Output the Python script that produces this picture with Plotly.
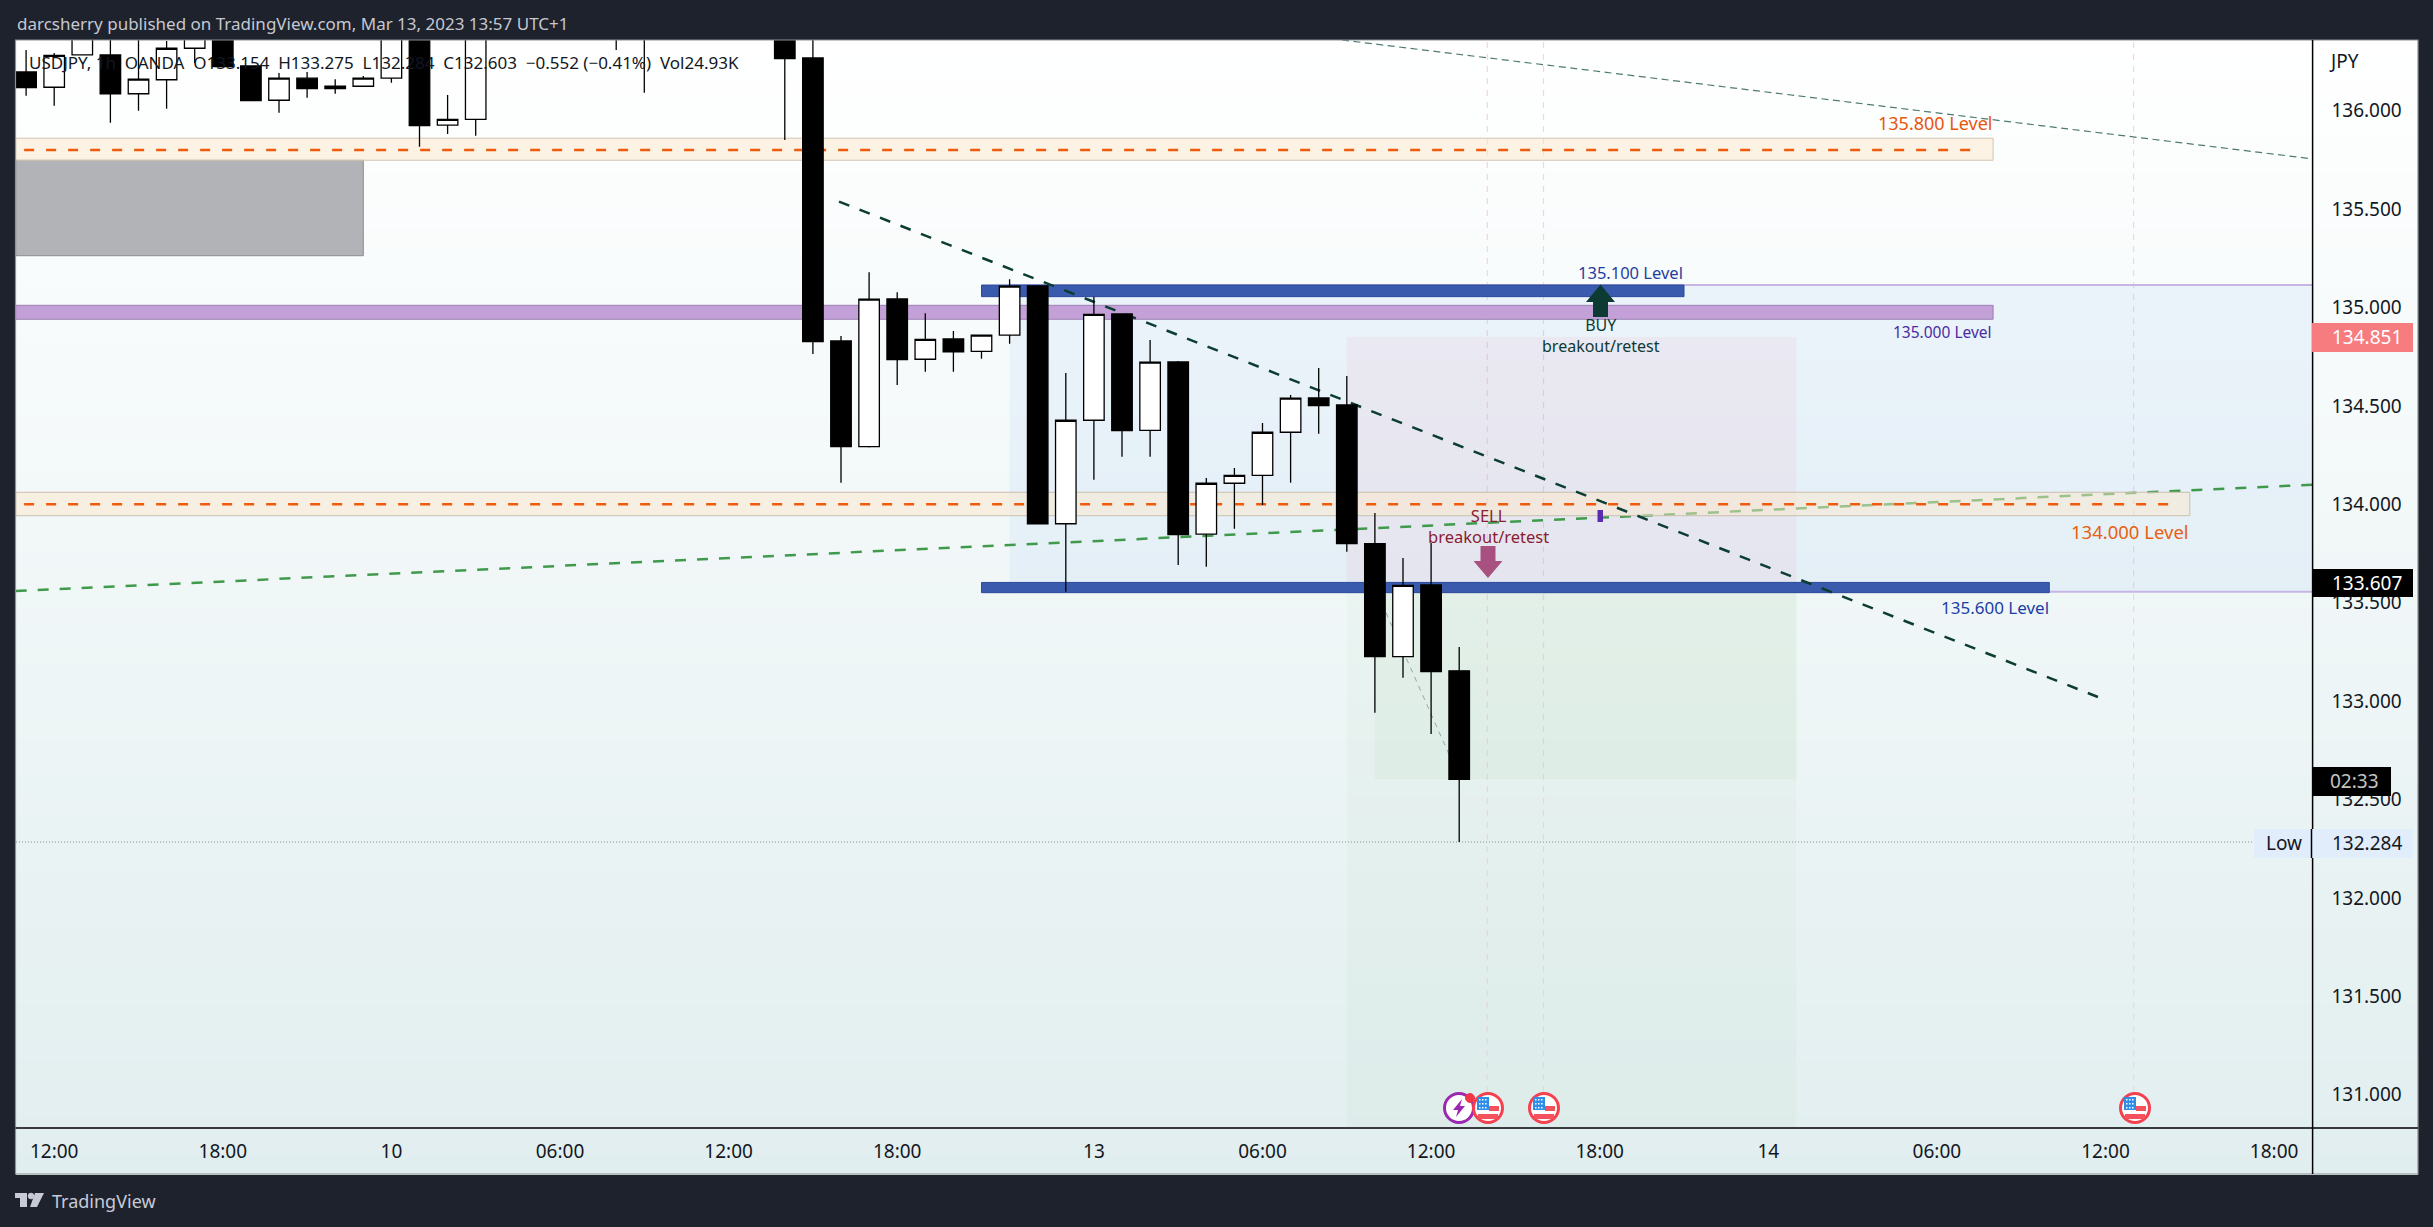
import plotly.graph_objects as go

# Hourly USDJPY candles, x is bars away from Mar 13 00:00 (the weekend is squeezed out)
bars = [-38, -37, -36, -35, -34, -33, -32, -31, -30, -29, -28, -27, -26, -25, -24, -23, -22,
        -17, -16, -11, -10, -9, -8, -7, -6, -5, -4, -3, -2, -1,
        0, 1, 2, 3, 4, 5, 6, 7, 8, 9, 10, 11, 12, 13]
opens = [136.197, 136.119, 136.283, 136.283, 136.086, 136.157, 136.317, 136.520, 136.227, 136.053,
         136.165, 136.112, 136.124, 136.165, 136.500, 135.926, 135.956,
         136.600, 136.600, 136.600, 136.268, 134.830, 134.293, 135.043, 134.737, 134.840, 134.777,
         134.859, 135.109, 133.901,
         134.427, 134.967, 134.376, 134.723, 133.848, 134.107, 134.147, 134.366, 134.540, 134.505,
         133.800, 133.226, 133.590, 133.154]
highs = [136.308, 136.293, 136.500, 136.400, 136.400, 136.354, 136.500, 136.550, 136.227, 136.191,
         136.197, 136.160, 136.176, 136.550, 136.550, 136.080, 136.500,
         136.650, 136.650, 136.650, 136.500, 134.855, 135.179, 135.077, 134.971, 134.881, 134.859,
         135.143, 135.109, 134.667,
         135.055, 134.971, 134.835, 134.728, 134.134, 134.184, 134.413, 134.555, 134.693, 134.652,
         133.956, 133.727, 133.803, 133.275]
lows = [136.076, 136.025, 136.283, 135.939, 136.000, 136.010, 136.242, 136.224, 136.051, 135.990,
        136.066, 136.086, 136.124, 136.142, 135.817, 135.882, 135.873,
        136.308, 136.091, 135.851, 134.764, 134.110, 134.288, 134.606, 134.674, 134.674, 134.740,
        134.816, 133.901, 133.556,
        134.125, 134.242, 134.242, 133.692, 133.683, 133.876, 133.996, 134.110, 134.359, 133.759,
        132.941, 133.119, 132.833, 132.284]
closes = [136.117, 136.281, 136.420, 136.086, 136.160, 136.317, 136.450, 136.224, 136.051, 136.165,
          136.112, 136.124, 136.165, 136.500, 135.924, 135.956, 136.450,
          136.500, 136.550, 136.264, 134.826, 134.293, 135.042, 134.735, 134.838, 134.775, 134.859,
          135.108, 133.901, 134.427,
          134.965, 134.374, 134.722, 133.846, 134.107, 134.147, 134.366, 134.539, 134.501, 133.800,
          133.226, 133.588, 133.150, 132.603]

time_ticks = [-37, -31, -25, -19, -13, -7, 0, 6, 12, 18, 24, 30, 36, 42]
time_labels = ['12:00', '18:00', '10', '06:00', '12:00', '18:00', '13', '06:00', '12:00', '18:00',
               '14', '06:00', '12:00', '18:00']
price_ticks = [136.0, 135.5, 135.0, 134.5, 134.0, 133.5, 133.0, 132.5, 132.0, 131.5, 131.0]
event_bars = [14, 16, 37]

# drawings on the chart: bar start, bar end, price top, price bottom
x_range = [-38.37, 43.37]
y_range = [130.831, 136.359]
grey_zone = [-38.37, -26, 135.748, 135.263]
range_zone = [-3, 43.37, 135.114, 133.556]
risk_zone = [9, 25, 134.851, 133.607]
reward_zone = [9, 25, 133.607, 130.831]
reward_inner = [10, 25, 133.607, 132.603]
orange_upper = [-38.37, 32, 135.860, 135.748]
orange_lower = [-38.37, 39, 134.061, 133.942]
purple_band = [-38.37, 32, 135.011, 134.940]
blue_upper = [-4, 21, 135.114, 135.055]
blue_lower = [-4, 34, 133.603, 133.551]
down_trend = [-9.07, 35.73, 135.538, 133.021]
up_trend = [-38.37, 43.37, 133.559, 134.100]
top_trend = [8.83, 43.37, 136.359, 135.755]
small_trend = [10.4, 12.68, 133.448, 132.716]
low_price = 132.284

W, H = 2433, 1227
DARK = '#1e222d'
FONT = 'Noto Sans'


def px(x):
    return x / W


def py(y):
    return 1 - y / H


def box(zone, fill, line=None, width=1):
    return dict(type='rect', xref='x', yref='y', x0=zone[0], x1=zone[1], y0=zone[2], y1=zone[3],
                fillcolor=fill, line=dict(color=line or 'rgba(0,0,0,0)', width=width), layer='below')


def slant(t, color, width, dash):
    return dict(type='line', xref='x', yref='y', x0=t[0], x1=t[1], y0=t[2], y1=t[3],
                line=dict(color=color, width=width, dash=dash), layer='below')


def pbox(x0, y0, x1, y1, fill, layer='above'):
    return dict(type='rect', xref='paper', yref='paper', x0=px(x0), x1=px(x1), y0=py(y0), y1=py(y1),
                fillcolor=fill, line=dict(width=0), layer=layer)


def poly(points, fill):
    path = 'M ' + ' L '.join(f'{px(a):.5f},{py(b):.5f}' for a, b in points) + ' Z'
    return dict(type='path', xref='paper', yref='paper', path=path, fillcolor=fill,
                line=dict(width=0), layer='above')


def ring(cx, cy, r, fill, line, width):
    return dict(type='circle', xref='paper', yref='paper', x0=px(cx - r), x1=px(cx + r),
                y0=py(cy - r), y1=py(cy + r), fillcolor=fill,
                line=dict(color=line, width=width), layer='above')


def note(x, y, text, color, size=16, anchor='center'):
    return dict(xref='paper', yref='paper', x=px(x), y=py(y), text=text, showarrow=False,
                xanchor=anchor, yanchor='middle', font=dict(family=FONT, size=size, color=color))


shapes = []

# white to pale teal panel behind everything
top, bottom = 40, 1174
steps = 60
for i in range(steps):
    f = i / (steps - 1)
    col = f'rgb({255 - 30 * f:.0f},{255 - 17 * f:.0f},{255 - 16 * f:.0f})'
    shapes.append(pbox(16, top + (bottom - top) * i / steps, 2418,
                       top + (bottom - top) * (i + 1) / steps + 1, col, layer='below'))

shapes += [
    box(range_zone, 'rgba(33,120,243,0.06)'),
    box(risk_zone, 'rgba(242,80,110,0.055)'),
    box(reward_zone, 'rgba(76,175,80,0.035)'),
    box(reward_inner, 'rgba(76,175,80,0.05)'),
    box(grey_zone, '#b1b3b6', '#8b8d90'),
    box(purple_band, '#c3a0d7', '#9b80b3'),
]
for level in [range_zone[2], range_zone[3]]:
    shapes.append(dict(type='line', xref='x', yref='y', x0=range_zone[0], x1=range_zone[1], y0=level,
                       y1=level, line=dict(color='#c7b6e4', width=2), layer='below'))
shapes += [
    box(blue_upper, '#3a5aad', '#2c4a9c'),
    box(blue_lower, '#3a5aad', '#2c4a9c'),
]
for b in event_bars:
    shapes.append(dict(type='line', xref='x', yref='paper', x0=b, x1=b, y0=py(1092), y1=py(40),
                       line=dict(color='#f3d5de', width=1.2, dash='6px,6px'), layer='below'))
# the green line runs under the orange band, which is what makes it look faded there
shapes += [
    slant(up_trend, '#3f9a4b', 2.5, '11px,11px'),
    box(orange_upper, 'rgba(252,231,203,0.5)', '#d3c5b3'),
    box(orange_lower, 'rgba(252,231,203,0.5)', '#cbbfae'),
]
for zone, end in [(orange_upper, 135.800), (orange_lower, 134.000)]:
    shapes.append(dict(type='line', xref='x', yref='y', x0=zone[0] + 0.3, x1=zone[1] - 0.4, y0=end, y1=end,
                       line=dict(color='#ef5a0c', width=2.5, dash='10px,12px'), layer='below'))
shapes += [
    slant(down_trend, '#0c3d33', 2.5, '11px,11px'),
    slant(top_trend, '#4f7a70', 1.2, '7px,4.5px'),
    slant(small_trend, '#9aa5a5', 1, '5px,5px'),
    dict(type='line', xref='paper', yref='y', x0=px(16), x1=px(2312), y0=low_price, y1=low_price,
         line=dict(color='#8a8d92', width=1, dash='1px,2px'), layer='below'),
]

# panel frame and axis lines
shapes += [
    dict(type='rect', xref='paper', yref='paper', x0=px(15.5), x1=px(2418), y0=py(40), y1=py(1174),
         line=dict(color='#8c9096', width=1.2), layer='above'),
    dict(type='line', xref='paper', yref='paper', x0=px(15.5), x1=px(2418), y0=py(1128), y1=py(1128),
         line=dict(color='#000000', width=1.5), layer='above'),
    dict(type='line', xref='paper', yref='paper', x0=px(2312.6), x1=px(2312.6), y0=py(40), y1=py(1174),
         line=dict(color='#000000', width=1.5), layer='above'),
]

# buy / sell arrows and the small marker on the trend line
shapes.append(poly([(1600.5, 284.5), (1615, 302), (1608, 302), (1608, 317), (1593, 317), (1593, 302), (1586, 302)],
                   '#0d3b34'))
shapes.append(poly([(1488, 578), (1473.5, 561), (1480.5, 561), (1480.5, 546), (1495.5, 546), (1495.5, 561),
                    (1502.5, 561)], '#a85180'))
shapes.append(dict(type='rect', xref='paper', yref='paper', x0=px(1597.5), x1=px(1603), y0=py(510), y1=py(522),
                   fillcolor='#5a2db0', line=dict(width=0), layer='above'))

# event icons on the time axis
shapes += [ring(1459, 1108, 14.5, '#ffffff', '#9c27b0', 3)]
shapes.append(poly([(1462, 1099), (1453, 1110), (1458, 1110), (1456, 1117), (1465, 1106), (1460, 1106)], '#9c27b0'))
shapes.append(ring(1470, 1098, 4.5, '#f23645', '#f23645', 1))
for cx in [1488, 1544, 2135]:
    shapes.append(ring(cx, 1108, 14.5, '#ffffff', '#f4404f', 3))
    shapes.append(pbox(cx - 11, 1097, cx + 1, 1110, '#2f8fe8'))
    shapes.append(pbox(cx + 1, 1106, cx + 11, 1111, '#f4525c'))
    shapes.append(pbox(cx - 10, 1114, cx + 10, 1119, '#f4525c'))
    for row in (1099, 1103, 1107):
        for col in (cx - 9, cx - 6, cx - 3):
            shapes.append(pbox(col, row, col + 1.5, row + 1.5, '#ffffff'))

# price labels on the right
shapes += [
    pbox(2312, 323, 2413, 352, '#f77c80'),
    pbox(2312, 569, 2413, 597, '#000000'),
    pbox(2312, 767, 2391, 796, '#000000'),
    pbox(2254, 829, 2413, 858, '#e2edfb'),
    dict(type='line', xref='paper', yref='paper', x0=px(2311.5), x1=px(2311.5), y0=py(829), y1=py(858),
         line=dict(color='#000000', width=1.5), layer='above'),
]

# TradingView mark
shapes += [
    poly([(15, 1193), (27, 1193), (27, 1207), (20, 1207), (20, 1198), (15, 1198)], '#c8cad6'),
    ring(31, 1196, 3, '#c8cad6', '#c8cad6', 0.5),
    poly([(35, 1193), (44, 1193), (37, 1207), (30, 1207)], '#c8cad6'),
]

annotations = [
    note(15, 23, 'darcsherry published on TradingView.com, Mar 13, 2023 13:57 UTC+1', '#c5c8d1', 17, 'left'),
    note(27, 63, 'USDJPY, 1h&nbsp;&nbsp;OANDA&nbsp;&nbsp;O133.154&nbsp;&nbsp;H133.275&nbsp;&nbsp;L132.284&nbsp;&nbsp;'
                 'C132.603&nbsp;&nbsp;−0.552 (−0.41%)&nbsp;&nbsp;Vol24.93K', '#131722', 17, 'left'),
    note(1994, 123, '135.800 Level', '#e8560c', 18, 'right'),
    note(1685, 272, '135.100 Level', '#1f3f9e', 16.5, 'right'),
    note(1994, 332, '135.000 Level', '#4a2ca0', 15.5, 'right'),
    note(2191, 531, '134.000 Level', '#e8610f', 18.5, 'right'),
    note(2051, 607, '135.600 Level', '#1b3ea4', 17, 'right'),
    note(1601, 335, 'BUY<br>breakout/retest', '#0d3b34', 16),
    note(1488, 526, 'SELL<br>breakout/retest', '#8c1c30', 16.5),
    note(2327, 61, 'JPY', '#131722', 19, 'left'),
    note(2330, 337, '134.851', '#ffffff', 19, 'left'),
    note(2330, 583, '133.607', '#ffffff', 19, 'left'),
    note(2328, 781, '02:33', '#c4c4c4', 19, 'left'),
    note(2264, 843, 'Low', '#131722', 19, 'left'),
    note(2330, 843, '132.284', '#131722', 19, 'left'),
    note(50, 1201, 'TradingView', '#c8cad6', 18, 'left'),
]

fig = go.Figure(go.Candlestick(
    x=bars, open=opens, high=highs, low=lows, close=closes,
    increasing=dict(line=dict(color='#000000', width=1.3), fillcolor='#ffffff'),
    decreasing=dict(line=dict(color='#000000', width=1.3), fillcolor='#000000'),
    whiskerwidth=0,
    showlegend=False,
))

fig.update_layout(
    width=W, height=H,
    margin=dict(l=0, r=0, t=0, b=0),
    paper_bgcolor=DARK,
    plot_bgcolor='rgba(0,0,0,0)',
    font=dict(family=FONT, size=19, color='#131722'),
    showlegend=False,
    boxgap=0.27,
    boxgroupgap=0,
    shapes=shapes,
    annotations=annotations,
    xaxis=dict(domain=[px(15.7), px(2312.6)], range=x_range, tickmode='array', tickvals=time_ticks,
               ticktext=time_labels, showgrid=False, zeroline=False, rangeslider=dict(visible=False),
               ticks='outside', ticklen=6, tickcolor='rgba(0,0,0,0)', showline=False),
    yaxis=dict(domain=[py(1128), py(40)], range=y_range, side='right', tickmode='array', tickvals=price_ticks,
               tickformat='.3f', showgrid=False, zeroline=False, ticks='outside', ticklen=14,
               tickcolor='rgba(0,0,0,0)', showline=False),
)

fig.write_html("out.html", config=dict(displayModeBar=False),
               post_script="document.body.style.margin='0';document.body.style.overflow='hidden';")
